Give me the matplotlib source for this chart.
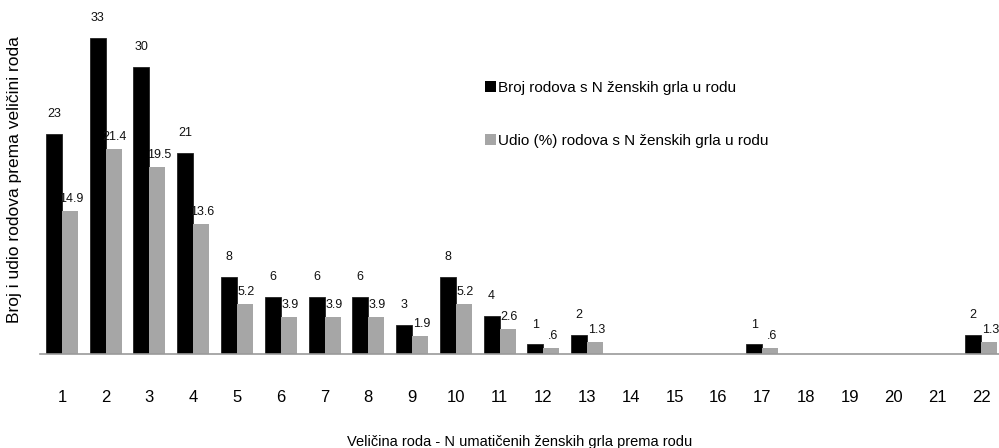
import matplotlib
matplotlib.use("Agg")
import matplotlib.pyplot as plt
from matplotlib.patches import Patch
import numpy as np

plt.rcParams['font.family'] = ['Liberation Sans', 'DejaVu Sans']

categories = [str(i) for i in range(1, 23)]
broj = [23, 33, 30, 21, 8, 6, 6, 6, 3, 8, 4, 1, 2, 0, 0, 0, 1, 0, 0, 0, 0, 2]
udio = [14.9, 21.4, 19.5, 13.6, 5.2, 3.9, 3.9, 3.9, 1.9, 5.2, 2.6, 0.6, 1.3, 0, 0, 0, 0.6, 0, 0, 0, 0, 1.3]
udio_labels = ["14.9", "21.4", "19.5", "13.6", "5.2", "3.9", "3.9", "3.9", "1.9", "5.2", "2.6", ".6", "1.3",
               "", "", "", ".6", "", "", "", "", "1.3"]

W, H = 999, 448
fig = plt.figure(figsize=(W / 100, H / 100), dpi=100)
ax = fig.add_axes([40 / W, (H - 354) / H, (1003 - 40) / W, 354 / H])

x = np.arange(len(categories))
bw = 0.366
black = '#000000'
gray = '#a6a6a6'
ax.bar(x - bw / 2, broj, bw, color=black, edgecolor='#222222', linewidth=0.6)
ax.bar(x + bw / 2, udio, bw, color=gray, edgecolor='none')

for xi, v in zip(x, broj):
    if v > 0:
        ax.annotate(str(v), (xi - bw / 2, v), xytext=(0, 10), textcoords='offset points',
                    ha='center', va='bottom', fontsize=9, color='#111111')
for xi, v, lab in zip(x, udio, udio_labels):
    if lab:
        ax.annotate(lab, (xi + bw / 2 + 0.03, v), xytext=(0, 4.3), textcoords='offset points',
                    ha='center', va='bottom', fontsize=9, color='#111111')

ax.set_xlim(-0.5, len(categories) - 0.5)
ax.set_ylim(0, 354 / 9.58)
ax.set_xticks(x)
ax.set_xticklabels(categories, fontsize=12)
ax.tick_params(axis='x', length=0, pad=26)
ax.set_yticks([])
for s in ['top', 'right', 'left']:
    ax.spines[s].set_visible(False)
ax.spines['bottom'].set_color('#999999')
ax.spines['bottom'].set_linewidth(1.2)

fig.text(15 / W, 1 - 180 / H, 'Broj i udio rodova prema veličini roda', rotation=90,
         ha='center', va='center', fontsize=12.5)
fig.text(520 / W, 1 - 442 / H, 'Veličina roda - N umatičenih ženskih grla prema rodu',
         ha='center', va='center', fontsize=10.5)

handles = [Patch(facecolor=black, edgecolor='none'), Patch(facecolor=gray, edgecolor='none')]
fig.legend(handles, ['Broj rodova s N ženskih grla u rodu', 'Udio (%) rodova s N ženskih grla u rodu'],
           loc='upper left', bbox_to_anchor=(485 / W, 1 - 81 / H), frameon=False,
           fontsize=11, handlelength=0.7, handleheight=0.7, handletextpad=0.15,
           labelspacing=2.55, borderaxespad=0, borderpad=0)

fig.savefig('out.png', dpi=100)
